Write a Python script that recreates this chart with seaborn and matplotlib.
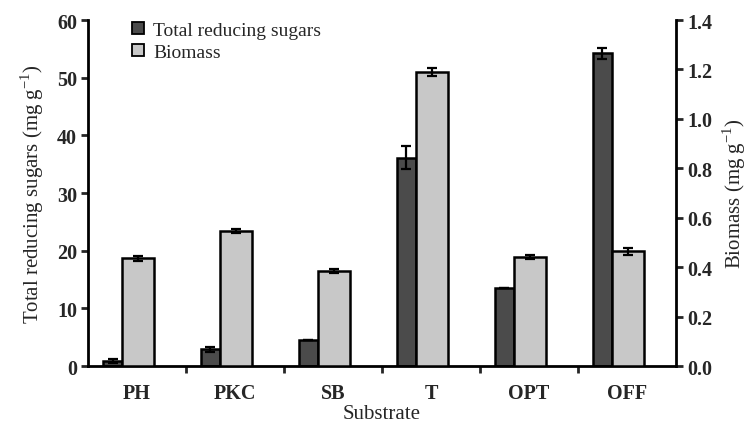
#!/usr/bin/env python3
"""
Total reducing sugars and biomass per substrate (dual axis bar chart)
"""

import numpy as np
import matplotlib
matplotlib.use("Agg")
import matplotlib.pyplot as plt
import seaborn as sns

# Data
substrates = ['PH', 'PKC', 'SB', 'T', 'OPT', 'OFF']
sugars = [0.9, 2.9, 4.5, 36.1, 13.5, 54.2]          # mg g-1, left axis
sugars_err = [0.3, 0.4, 0.0, 2.0, 0.0, 0.9]
biomass = [0.436, 0.546, 0.385, 1.188, 0.440, 0.464]  # mg g-1, right axis
biomass_err = [0.010, 0.008, 0.007, 0.016, 0.009, 0.013]

sns.set_theme(style='ticks')
plt.rcParams['font.family'] = ['Liberation Serif', 'DejaVu Serif']
plt.rcParams['mathtext.fontset'] = 'custom'
plt.rcParams['mathtext.rm'] = 'Liberation Serif'

dark = '#4b4b4b'
light = '#c8c8c8'
tick_size = 14.5
label_size = 15

fig, ax1 = plt.subplots(figsize=(7.51, 4.27), dpi=100)
fig.subplots_adjust(left=0.1172, right=0.900, top=0.9508, bottom=0.1405)
ax2 = ax1.twinx()

pos = np.arange(len(substrates))
dark_pos = pos - 0.25
light_pos = pos + 0.01

sns.barplot(x=dark_pos, y=sugars, native_scale=True, width=0.2, color=dark,
            saturation=1, edgecolor='black', linewidth=1.8, errorbar=None, ax=ax1)
ax1.errorbar(dark_pos, sugars, yerr=sugars_err, fmt='none', ecolor='black',
             elinewidth=1.6, capsize=3.5, capthick=1.6)

sns.barplot(x=light_pos, y=biomass, native_scale=True, width=0.33, color=light,
            saturation=1, edgecolor='black', linewidth=1.8, errorbar=None, ax=ax2)
ax2.errorbar(light_pos, biomass, yerr=biomass_err, fmt='none', ecolor='black',
             elinewidth=1.6, capsize=3.5, capthick=1.6)

# axes limits and ticks
ax1.set_xlim(-0.5, 5.5)
ax1.set_ylim(0, 60)
ax2.set_ylim(0, 1.4)
ax1.set_yticks(np.arange(0, 61, 10))
ax2.set_yticks(np.arange(0, 1.41, 0.2))
ax2.set_yticklabels([f'{v:.1f}' for v in np.arange(0, 1.41, 0.2)])

ax1.set_xticks(pos[:-1] + 0.5)
ax1.set_xticklabels([])
ax1.set_xticks(pos, minor=True)
ax1.set_xticklabels(substrates, minor=True)
ax1.tick_params(axis='x', which='major', length=5, width=2, direction='out')
ax1.tick_params(axis='x', which='minor', length=0, pad=12)

for lab in ax1.get_xticklabels(minor=True) + ax1.get_yticklabels() + ax2.get_yticklabels():
    lab.set_fontsize(tick_size)
    lab.set_fontweight('bold')
ax1.tick_params(axis='y', length=5, width=2, direction='out', pad=3)
ax2.tick_params(axis='y', length=5, width=2, direction='out', pad=3)

for ax in (ax1, ax2):
    ax.spines['top'].set_visible(False)
    for s in ('left', 'right', 'bottom'):
        ax.spines[s].set_linewidth(2)
        ax.spines[s].set_color('black')
ax1.spines['right'].set_visible(False)
ax2.spines['left'].set_visible(False)
ax2.spines['bottom'].set_visible(False)

ax1.set_ylabel('Total reducing sugars (mg g$^{-1}$)', fontsize=label_size, labelpad=8)
ax2.set_ylabel('Biomass (mg g$^{-1}$)', fontsize=label_size, labelpad=6)
ax1.set_xlabel('Substrate', fontsize=label_size, labelpad=1)

# legend
handles = [plt.Rectangle((0, 0), 1, 1, facecolor=dark, edgecolor='black', linewidth=1.3),
           plt.Rectangle((0, 0), 1, 1, facecolor=light, edgecolor='black', linewidth=1.3)]
ax2.legend(handles, ['Total reducing sugars', 'Biomass'], loc='upper left',
           bbox_to_anchor=(0.045, 1.045), frameon=False, fontsize=14,
           handlelength=0.6, handleheight=0.6, handletextpad=0.5, labelspacing=0.25)

plt.savefig('out.png', dpi=100)
plt.close()
